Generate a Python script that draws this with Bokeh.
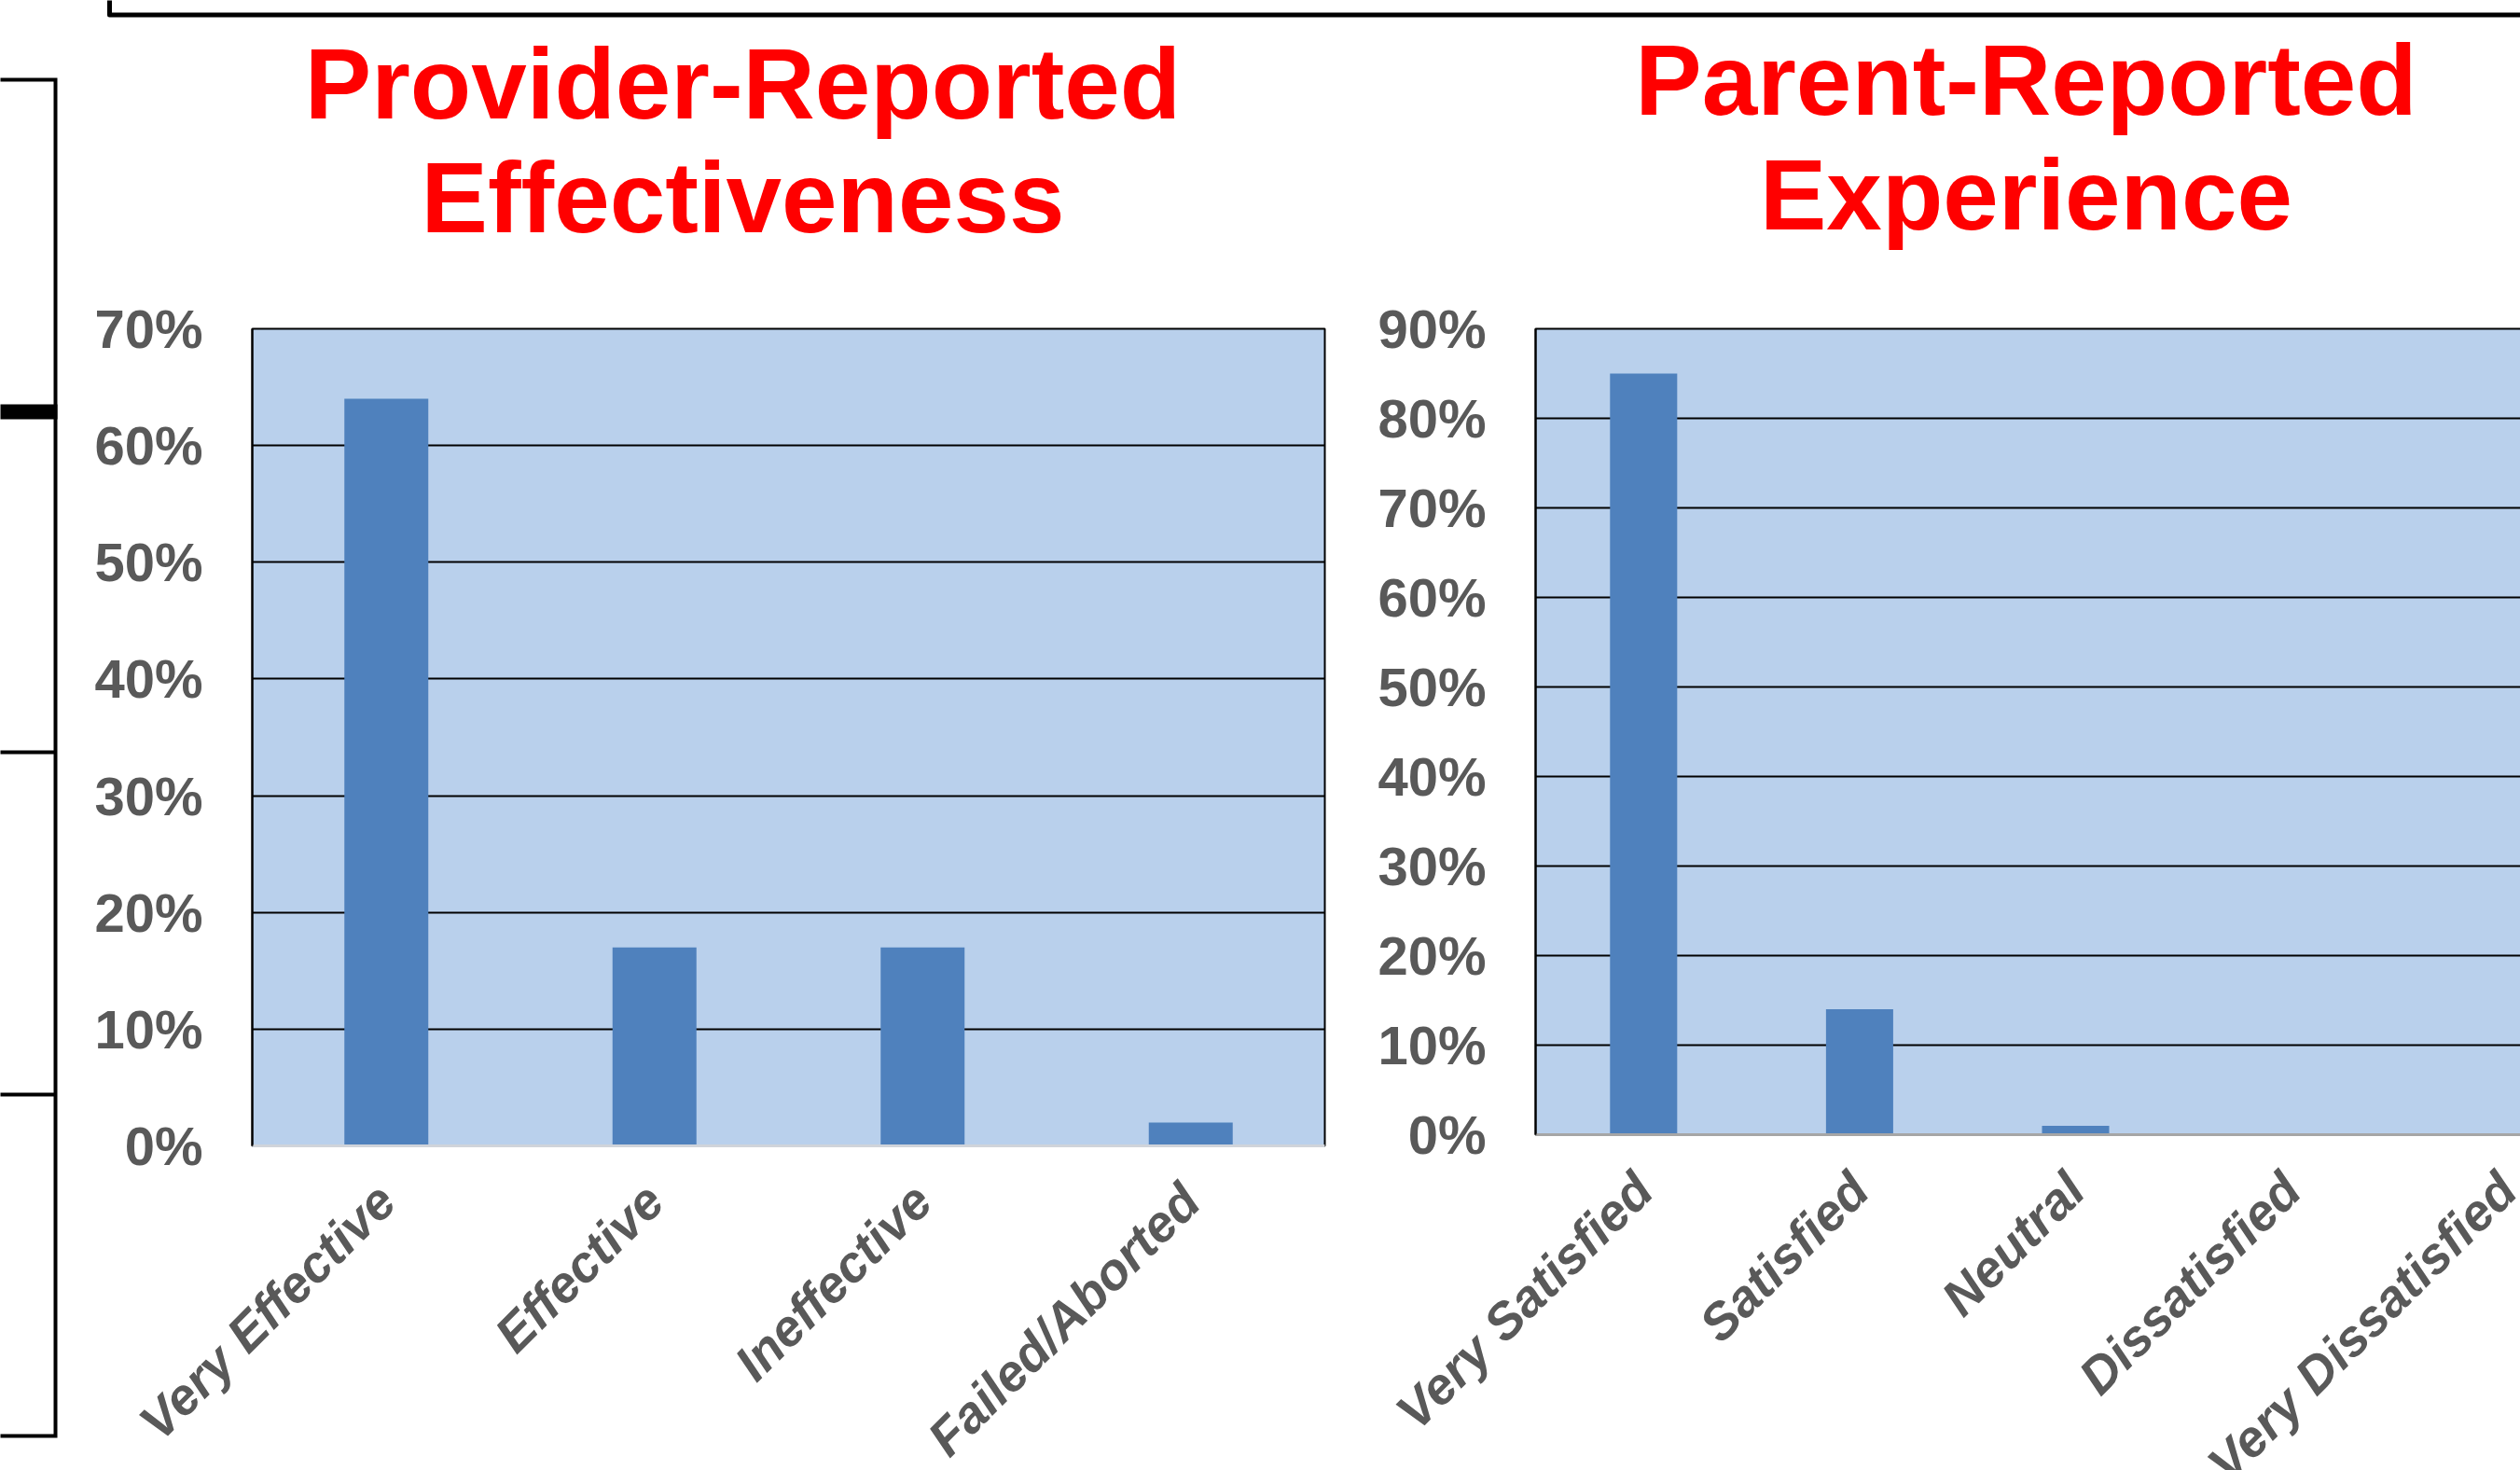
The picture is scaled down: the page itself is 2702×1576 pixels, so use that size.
import math
from bokeh.plotting import figure
from bokeh.models import (Range1d, FactorRange, FixedTicker, PrintfTickFormatter,
                          ColumnDataSource)
from bokeh.layouts import row, column
from bokeh.core.properties import value
from bokeh.embed import file_html
from bokeh.resources import INLINE

# ---------------- data ----------------
titles = ["Provider-Reported", "Effectiveness", "Parent-Reported", "Experience"]

cats1 = ["Very Effective", "Effective", "Ineffective", "Failed/Aborted"]
vals1 = [64, 17, 17, 2]
yticks1 = [0, 10, 20, 30, 40, 50, 60, 70]

cats2 = ["Very Satisfied", "Satisfied", "Neutral", "Dissatisfied", "Very Dissatisfied"]
vals2 = [85, 14, 1, 0, 0]
yticks2 = [0, 10, 20, 30, 40, 50, 60, 70, 80, 90]

# ---------------- style ----------------
FONT = value("Liberation Sans")
BG = "#b9d0ec"
BAR = "#4f81bd"
GREY = "#595959"
RED = "#ff0000"


def canvas_fig(w, h, x0, y0):
    f = figure(width=w, height=h, x_range=Range1d(x0, x0 + w),
               y_range=Range1d(y0 + h, y0), output_backend="svg",
               toolbar_location=None, min_border=0, title=None,
               x_axis_location=None, y_axis_location=None)
    f.grid.visible = False
    f.outline_line_color = None
    f.background_fill_color = "white"
    f.border_fill_color = "white"
    return f


# left decoration (x 0..70, y 0..1576)
left = canvas_fig(70, 1576, 0, 0)
left.multi_line(xs=[[-5, 59, 59, -5]], ys=[[85, 85, 1539, 1539]], line_color="black",
                line_width=4, line_join="miter")
left.segment(x0=[-5, -5], y0=[806, 1173], x1=[59, 59], y1=[806, 1173],
             line_color="black", line_width=4)
left.segment(x0=[-5], y0=[441], x1=[61], y1=[441], line_color="black", line_width=16)

# header with frame line and titles (x 70..2702, y 0..318)
head = canvas_fig(2632, 318, 70, 0)
head.multi_line(xs=[[117, 117, 2710]], ys=[[-5, 15.5, 15.5]], line_color="black",
                line_width=5, line_join="round")
head.text(x=[796, 796, 2172, 2172], y=[89, 211, 85, 208], text=titles,
          text_font=FONT, text_font_style="bold", text_font_size="107px",
          text_color=RED, text_align="center", text_baseline="alphabetic")


def style_chart(p):
    p.background_fill_color = BG
    p.border_fill_color = "white"
    p.xgrid.visible = False
    p.ygrid.grid_line_color = "black"
    p.ygrid.grid_line_width = 2
    p.outline_line_color = "black"
    p.outline_line_width = 2
    for ax in (p.xaxis[0], p.yaxis[0]):
        ax.major_tick_out = 0
        ax.major_tick_in = 0
        ax.minor_tick_out = 0
        ax.minor_tick_in = 0
        ax.major_tick_line_color = None
        ax.minor_tick_line_color = None
        ax.major_label_text_font = "Liberation Sans"
        ax.major_label_text_color = GREY
    ya = p.yaxis[0]
    ya.axis_line_color = "black"
    ya.axis_line_width = 2
    ya.major_label_text_font_style = "bold"
    ya.major_label_text_font_size = "58px"
    ya.major_label_standoff = 53
    ya.formatter = PrintfTickFormatter(format="%d%%")
    xa = p.xaxis[0]
    xa.major_label_text_font_style = "bold italic"
    xa.major_label_text_font_size = "55px"
    xa.major_label_orientation = math.pi / 4
    xa.major_label_standoff = 50


# chart 1 (x 70..1440, y from 318); frame 270..1420 x 352..1228
src1 = ColumnDataSource(dict(cat=cats1, val=vals1))
p1 = figure(width=1370, height=1330, x_range=FactorRange(factors=cats1),
            y_range=Range1d(0, 70), output_backend="svg", toolbar_location=None,
            title=None, min_border_left=200, min_border_right=20, min_border_top=34,
            min_border_bottom=420)
p1.vbar(x="cat", top="val", width=0.313, source=src1, fill_color=BAR, line_color=None)
style_chart(p1)
p1.yaxis[0].ticker = FixedTicker(ticks=yticks1)
p1.xaxis[0].axis_line_color = "#d0d4da"
p1.xaxis[0].axis_line_width = 3

# chart 2 (x from 1440, y from 318); frame 1646..2804 x 348..1216
# (the right part runs past the page edge and is cut off, as in the original)
src2 = ColumnDataSource(dict(cat=cats2, val=vals2))
p2 = figure(width=1364, height=1318, x_range=FactorRange(factors=cats2),
            y_range=Range1d(0, 90), output_backend="svg", toolbar_location=None,
            title=None, min_border_left=206, min_border_right=0, min_border_top=30,
            min_border_bottom=420)
p2.vbar(x="cat", top="val", width=0.311, source=src2, fill_color=BAR, line_color=None)
style_chart(p2)
p2.yaxis[0].ticker = FixedTicker(ticks=yticks2)
p2.xaxis[0].axis_line_color = "#a6a6a6"
p2.xaxis[0].axis_line_width = 3

layout = row(left, column(head, row(p1, p2)),
             width=2702, height=1576, styles={"overflow": "hidden"})

open("out.html", "w").write(file_html(layout, INLINE))
